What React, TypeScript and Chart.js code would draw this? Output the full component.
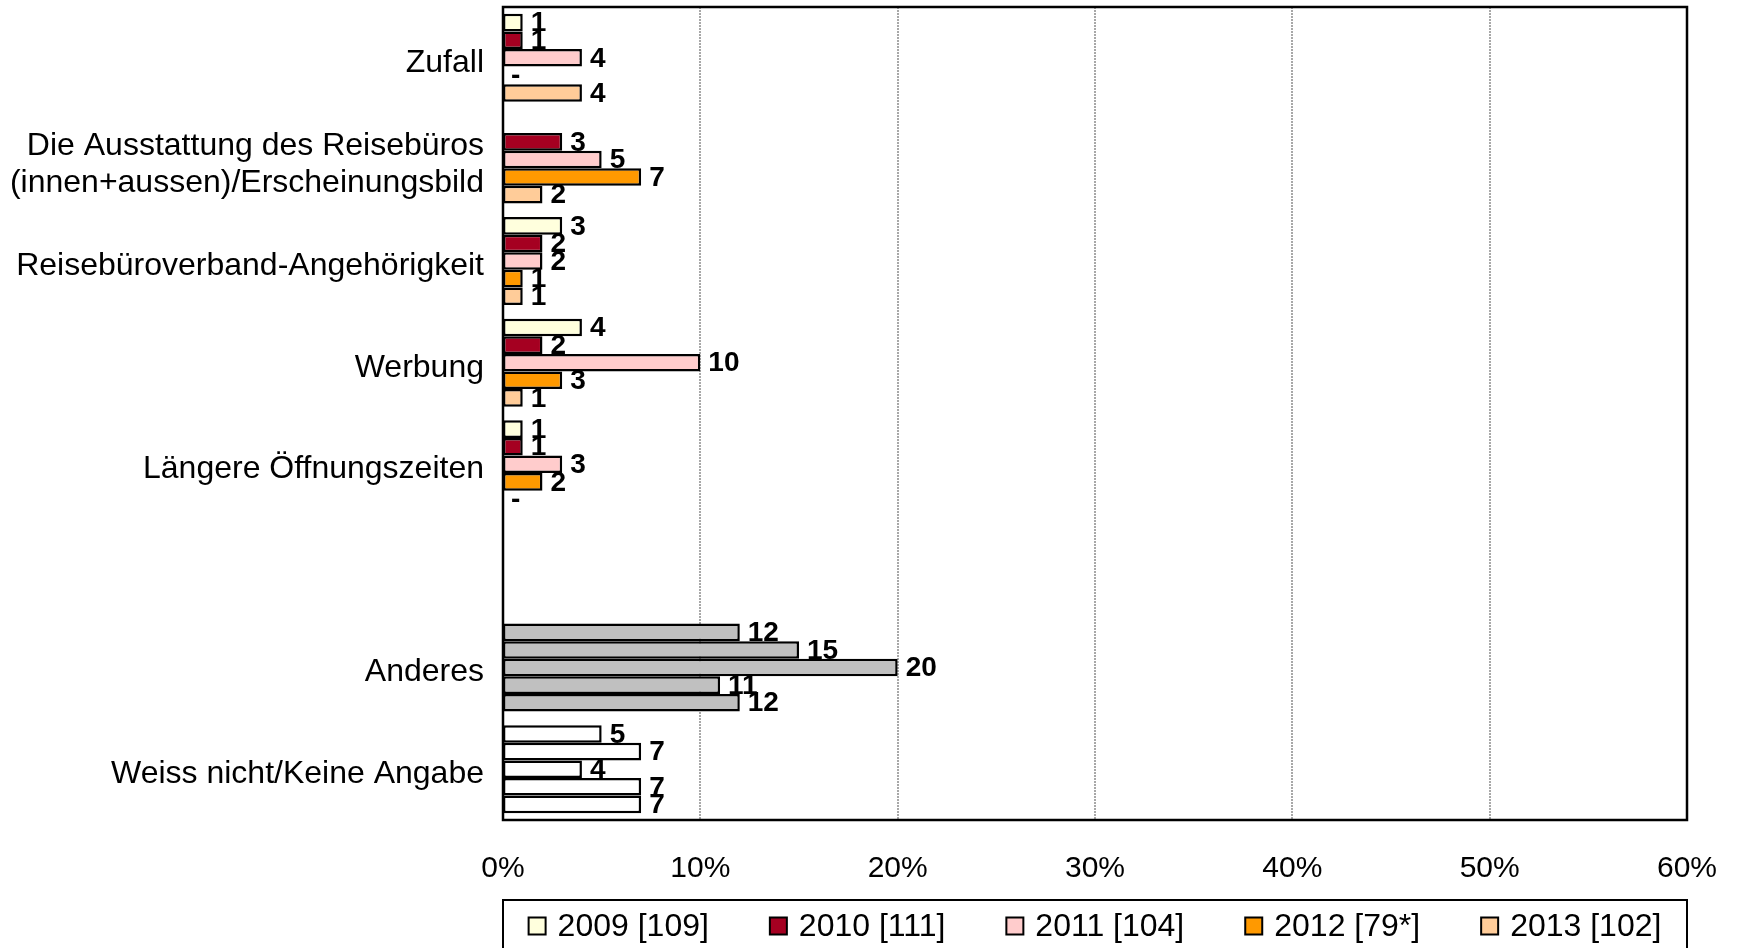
import React, { useEffect, useRef } from "react";
import { Chart, registerables } from "chart.js";

Chart.register(...registerables);

const categories: (string | string[])[] = [
  "Zufall",
  ["Die Ausstattung des Reisebüros", "(innen+aussen)/Erscheinungsbild"],
  "Reisebüroverband-Angehörigkeit",
  "Werbung",
  "Längere Öffnungszeiten",
  "",
  "Anderes",
  "Weiss nicht/Keine Angabe",
];

const seriesNames = ["2009 [109]", "2010 [111]", "2011 [104]", "2012 [79*]", "2013 [102]"];
const seriesColors = ["#FFFFDD", "#A50021", "#FFCCCC", "#FF9900", "#FFCC99"];

const values2009 = [1, null, 3, 4, 1, null, 12, 5];
const values2010 = [1, 3, 2, 2, 1, null, 15, 7];
const values2011 = [4, 5, 2, 10, 3, null, 20, 4];
const values2012 = [0, 7, 1, 3, 2, null, 11, 7];
const values2013 = [4, 2, 1, 1, 0, null, 12, 7];
const seriesValues = [values2009, values2010, values2011, values2012, values2013];

// category-specific fill colors (null = use series color)
const categoryFill: (string | null)[] = [null, null, null, null, null, null, "#C0C0C0", "#FFFFFF"];

const xTicks = [0, 10, 20, 30, 40, 50, 60];

const FONT = "'Liberation Sans', Arial, sans-serif";

export default function App() {
  const canvasRef = useRef<HTMLCanvasElement | null>(null);

  useEffect(() => {
    document.body.style.margin = "0";
    const canvas = canvasRef.current;
    if (!canvas) return;

    const gridPlugin = {
      id: "dashedGrid",
      beforeDatasetsDraw(chart: any) {
        const { ctx, chartArea, scales } = chart;
        const x = scales.x;
        ctx.save();
        ctx.strokeStyle = "#A8A8A8";
        ctx.lineWidth = 2;
        ctx.setLineDash([2, 1]);
        xTicks.forEach((t) => {
          if (t === xTicks[0] || t === xTicks[xTicks.length - 1]) return;
          const px = Math.round(x.getPixelForValue(t));
          ctx.beginPath();
          ctx.moveTo(px, chartArea.top);
          ctx.lineTo(px, chartArea.bottom);
          ctx.stroke();
        });
        ctx.restore();
      },
    };

    const framePlugin = {
      id: "frameAndLabels",
      afterDatasetsDraw(chart: any) {
        const { ctx, chartArea } = chart;
        // value labels
        ctx.save();
        ctx.font = `bold 28px ${FONT}`;
        ctx.fillStyle = "#000";
        ctx.textAlign = "left";
        ctx.textBaseline = "middle";
        chart.data.datasets.forEach((ds: any, di: number) => {
          const meta = chart.getDatasetMeta(di);
          meta.data.forEach((el: any, i: number) => {
            const v = ds.data[i];
            if (v === null || v === undefined) return;
            const txt = v === 0 ? "-" : String(v);
            ctx.fillText(txt, el.x + 8, el.y + 1);
          });
        });
        ctx.restore();
        // frame
        ctx.save();
        ctx.strokeStyle = "#000";
        ctx.lineWidth = 2.5;
        ctx.strokeRect(
          chartArea.left,
          chartArea.top,
          chartArea.right - chartArea.left,
          chartArea.bottom - chartArea.top
        );
        ctx.restore();
      },
      afterDraw(chart: any) {
        const { ctx, chartArea } = chart;
        const boxTop = 900;
        ctx.save();
        ctx.strokeStyle = "#000";
        ctx.lineWidth = 2;
        ctx.strokeRect(chartArea.left, boxTop, chartArea.right - chartArea.left, 80);
        ctx.font = `32px ${FONT}`;
        const sq = 17;
        const textGap = 29;
        const itemGap = 61;
        const widths = seriesNames.map((n) => textGap + ctx.measureText(n).width);
        const total = widths.reduce((a, b) => a + b, 0) + itemGap * (seriesNames.length - 1);
        let xPos = (chartArea.left + chartArea.right) / 2 - total / 2;
        const cy = 926;
        ctx.textAlign = "left";
        ctx.textBaseline = "middle";
        seriesNames.forEach((n, i) => {
          ctx.fillStyle = seriesColors[i];
          ctx.fillRect(xPos, cy - sq / 2, sq, sq);
          ctx.lineWidth = 2;
          ctx.strokeStyle = "#000";
          ctx.strokeRect(xPos, cy - sq / 2, sq, sq);
          ctx.fillStyle = "#000";
          ctx.fillText(n, xPos + textGap, cy + 1);
          xPos += widths[i] + itemGap;
        });
        ctx.restore();
      },
    };

    const chart = new Chart(canvas, {
      type: "bar",
      data: {
        labels: categories,
        datasets: seriesNames.map((name, si) => ({
          label: name,
          data: seriesValues[si],
          backgroundColor: categoryFill.map((c) => c ?? seriesColors[si]),
          borderColor: "#000000",
          borderWidth: 2.5,
          borderSkipped: false,
          categoryPercentage: 0.866,
          barPercentage: 1.0,
        })),
      },
      options: {
        indexAxis: "y",
        responsive: false,
        animation: false,
        devicePixelRatio: 1,
        layout: { padding: { top: 7, right: 50, left: 0, bottom: 0 } },
        plugins: {
          legend: { display: false },
          tooltip: { enabled: false },
        },
        scales: {
          x: {
            type: "linear",
            min: 0,
            max: 60,
            afterBuildTicks: (scale: any) => {
              scale.ticks = xTicks.map((v) => ({ value: v }));
            },
            afterFit: (scale: any) => {
              scale.height = 128;
              scale.paddingLeft = 0;
              scale.paddingRight = 0;
            },
            grid: { display: false, drawTicks: false },
            border: { display: false },
            ticks: {
              callback: (v: any) => `${v}%`,
              font: { family: FONT, size: 30 },
              color: "#000",
              padding: 31,
              maxRotation: 0,
            },
          },
          y: {
            type: "category",
            afterFit: (scale: any) => {
              scale.width = 503;
              scale.paddingTop = 0;
              scale.paddingBottom = 0;
            },
            grid: { display: false, drawTicks: false },
            border: { display: false },
            ticks: {
              font: { family: FONT, size: 32, lineHeight: 1.15 },
              color: "#000",
              padding: 19,
              labelOffset: 5,
              autoSkip: false,
            },
          },
        },
      },
      plugins: [gridPlugin, framePlugin],
    } as any);

    return () => chart.destroy();
  }, []);

  return (
    <div style={{ width: 1737, height: 948, position: "relative", background: "#fff" }}>
      <canvas ref={canvasRef} width={1737} height={948} style={{ display: "block" }} />
    </div>
  );
}
